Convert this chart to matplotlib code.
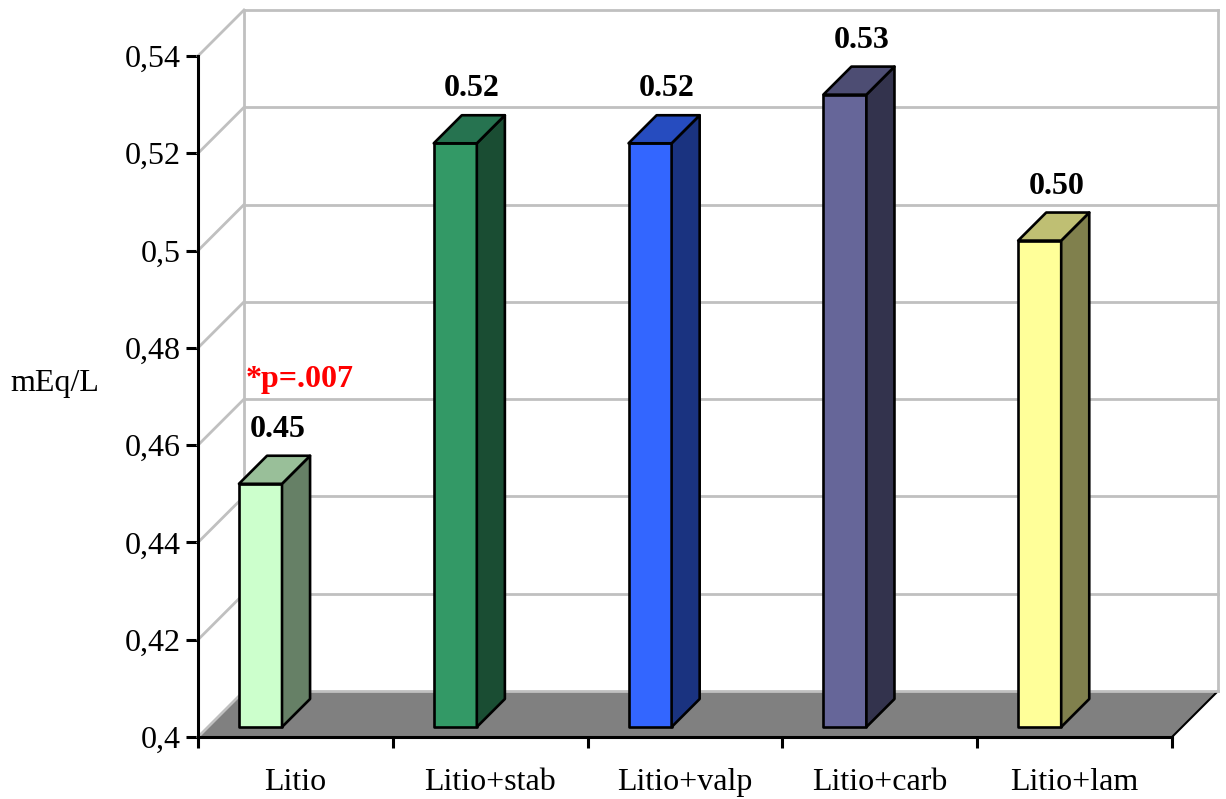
import matplotlib.pyplot as plt
from matplotlib.patches import Polygon

# datos
categorias = ["Litio", "Litio+stab", "Litio+valp", "Litio+carb", "Litio+lam"]
valores = [0.45, 0.52, 0.52, 0.53, 0.50]
etiquetas = ["0.45", "0.52", "0.52", "0.53", "0.50"]
y_ticks = [0.40, 0.42, 0.44, 0.46, 0.48, 0.50, 0.52, 0.54]
y_labels = ["0,4", "0,42", "0,44", "0,46", "0,48", "0,5", "0,52", "0,54"]
nota = "*p=.007"

# colores: frente, lado, tapa
col_frente = ["#CCFFCC", "#339966", "#3366FF", "#666699", "#FFFF99"]
col_lado = ["#668066", "#1A4D33", "#1A3380", "#33334D", "#80804D"]
col_tapa = ["#99BF99", "#267350", "#264CBF", "#4D4D73", "#BFBF73"]

plt.rcParams['font.family'] = ['Liberation Serif', 'DejaVu Serif']

fig = plt.figure(figsize=(12.26, 7.99), dpi=100)
ax = fig.add_axes([198/1226, 62/799, 974/1226, 681/799])
ax.set_xlim(0, len(categorias))
ax.set_ylim(0.4, 0.54)
ax.patch.set_alpha(0)

# profundidad del efecto 3d (en unidades de datos)
DX = 46/194.8
DY = 46/681*0.14
y0, y1 = 0.4, 0.54
n = len(categorias)

# piso
ax.add_patch(Polygon([(0, y0), (n, y0), (n+DX, y0+DY), (DX, y0+DY)],
                     closed=True, facecolor="#808080", edgecolor="none",
                     clip_on=False, zorder=1))
ax.plot([n, n+DX], [y0, y0+DY], color="black", lw=1.5, clip_on=False, zorder=2)

# pared del fondo y lateral
gris = "#C0C0C0"
for v in y_ticks:
    ax.plot([DX, n+DX], [v+DY, v+DY], color=gris, lw=2, clip_on=False, zorder=2)
    ax.plot([0, DX], [v, v+DY], color=gris, lw=2, clip_on=False, zorder=2)
ax.plot([DX, DX], [y0+DY, y1+DY], color=gris, lw=2, clip_on=False, zorder=2)
ax.plot([n+DX, n+DX], [y0+DY, y1+DY], color=gris, lw=2, clip_on=False, zorder=2)

# barras 3d
f0 = 0.217   # posicion de la cara frontal en profundidad
d = 0.61     # profundidad de la barra
ancho = 0.221
for i, v in enumerate(valores):
    xl = i + 0.159 + f0*DX
    xr = xl + ancho
    yb = y0 + f0*DY
    yt = v + f0*DY
    ox, oy = d*DX, d*DY
    kw = dict(closed=True, edgecolor="black", lw=1.9, clip_on=False, zorder=3, joinstyle='round')
    ax.add_patch(Polygon([(xl, yb), (xr, yb), (xr, yt), (xl, yt)], facecolor=col_frente[i], **kw))
    ax.add_patch(Polygon([(xr, yb), (xr+ox, yb+oy), (xr+ox, yt+oy), (xr, yt)], facecolor=col_lado[i], **kw))
    ax.add_patch(Polygon([(xl, yt), (xr, yt), (xr+ox, yt+oy), (xl+ox, yt+oy)], facecolor=col_tapa[i], **kw))
    cx = (xl + xr + ox)/2
    ax.annotate(etiquetas[i], (cx, yt+oy), xytext=(2, 19), textcoords="offset points",
                ha="center", va="center", fontsize=23, fontweight="bold",
                annotation_clip=False, zorder=4)
    if i == 0:
        ax.annotate(nota, (cx, yt+oy), xytext=(18, 55), textcoords="offset points",
                    ha="center", va="center", fontsize=23, fontweight="bold",
                    color="red", annotation_clip=False, zorder=4)

# ejes
for s in ["top", "right"]:
    ax.spines[s].set_visible(False)
for s in ["left", "bottom"]:
    ax.spines[s].set_linewidth(2.2)
    ax.spines[s].set_zorder(5)
ax.set_yticks(y_ticks, y_labels)
ax.set_xticks(range(n+1), [""]*(n+1))
ax.set_xticks([i+0.5 for i in range(n)], categorias, minor=True)
ax.tick_params(axis="y", length=8.5, width=2.2, pad=4, labelsize=23)
ax.tick_params(axis="x", which="major", length=8, width=2.2)
ax.tick_params(axis="x", which="minor", length=0, pad=22, labelsize=23)

fig.text(55/1226, 1-383/799, "mEq/L", ha="center", va="center", fontsize=23)

fig.savefig("out.png", dpi=100)
